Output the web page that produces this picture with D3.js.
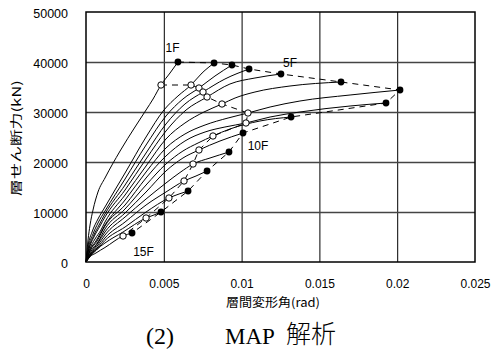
<!DOCTYPE html>
<html><head><meta charset="utf-8">
<script src="https://cdn.jsdelivr.net/npm/d3@7"></script>
<style>body{margin:0;background:#fff}svg{display:block}</style>
</head><body><svg id="c" width="491" height="351"></svg>
<script>
// ---- data ----
const floorNames = ["1F","2F","3F","4F","5F","6F","7F","8F","9F","10F","11F","12F","13F","14F","15F"];
// story drift angle (rad) along each curve
const drifts = [
 [0,0.00013,0.00026,0.00045,0.00077,0.00122,0.00219,0.00315,0.00386,0.00431,0.00482,0.0054,0.00591],
 [0,0.00013,0.00039,0.00077,0.00122,0.00186,0.00251,0.00386,0.00501,0.00591,0.00675,0.00746,0.00823],
 [0,0.00016,0.00045,0.00077,0.00122,0.00251,0.00386,0.00514,0.00623,0.00726,0.00829,0.00938],
 [0,0.00019,0.00051,0.00084,0.00122,0.00251,0.00386,0.00514,0.00636,0.00752,0.00893,0.01048],
 [0,0.00019,0.00051,0.0009,0.00122,0.00251,0.00386,0.00514,0.00643,0.00778,0.00925,0.01086,0.01253],
 [0,0.00022,0.00058,0.00096,0.00122,0.00251,0.00386,0.00514,0.00636,0.00758,0.00874,0.00958,0.01086,0.01311,0.01639],
 [0,0.00026,0.00064,0.00122,0.00251,0.00386,0.00514,0.00636,0.00765,0.00913,0.01041,0.01183,0.01375,0.01697,0.02018],
 [0,0.00026,0.00071,0.00122,0.00251,0.00386,0.00514,0.00636,0.00765,0.00893,0.01028,0.01183,0.01375,0.01697,0.01928],
 [0,0.00029,0.00077,0.00122,0.00251,0.00386,0.00514,0.00623,0.0072,0.00816,0.00925,0.01118,0.01318],
 [0,0.00032,0.00077,0.00122,0.00251,0.00386,0.00514,0.00623,0.00726,0.00861,0.01009],
 [0,0.00032,0.00077,0.00122,0.00251,0.00386,0.00514,0.00604,0.00688,0.00797,0.00919],
 [0,0.00032,0.00077,0.00122,0.00251,0.00386,0.00514,0.0063,0.00707,0.00778],
 [0,0.00029,0.00077,0.00122,0.00251,0.00386,0.00533,0.00598,0.00656],
 [0,0.00013,0.00064,0.00122,0.00238,0.00386,0.00437,0.00482],
 [0,0.0001,0.00064,0.00122,0.00238,0.00296]
];
// story shear (kN) along each curve
const shears = [
 [0,4400,7400,10400,14000,16800,22200,27000,30400,32600,35400,37800,40000],
 [0,3200,6000,8600,11000,14400,17800,25000,30400,33200,35400,37800,39800],
 [0,3000,5600,7800,10200,16600,23400,29200,32600,34800,37200,39400],
 [0,2800,5400,7400,9600,15400,21800,27600,31600,34000,36600,38600],
 [0,2600,5000,7200,9000,14400,20600,26200,30400,33000,35600,36800,37600],
 [0,2400,4600,6400,8000,13400,19200,24600,27800,30000,31600,32800,34000,35200,36000],
 [0,2400,4200,7400,12400,18000,22800,25600,27400,28800,29800,31000,32200,33400,34400],
 [0,2200,4200,7200,11400,16800,21200,24200,26000,27000,27800,29000,30000,31200,31800],
 [0,2000,4000,6600,10600,15400,19600,22200,23800,25200,26600,28200,29000],
 [0,1800,3800,6000,9800,14000,18200,20800,22400,24200,25800],
 [0,1600,3400,5400,9000,12600,15800,17900,19600,20800,22000],
 [0,1400,3000,4800,8000,11400,14000,16200,17200,18200],
 [0,1200,2700,4300,7000,10000,12800,13600,14200],
 [0,1000,2400,3800,6000,8800,9400,10000],
 [0,600,1800,2900,5200,5800]
];
// yield points (open circles) and max points (filled)
const yieldDrift = [0.00482,0.00675,0.00726,0.00752,0.00778,0.00874,0.01041,0.01028,0.00816,0.00726,0.00688,0.0063,0.00533,0.00386,0.00238];
const yieldShear = [35400,35400,34800,34000,33000,31600,29800,27800,25200,22400,19600,16200,12800,8800,5200];
const peakDrift  = [0.00591,0.00823,0.00938,0.01048,0.01253,0.01639,0.02018,0.01928,0.01318,0.01009,0.00919,0.00778,0.00656,0.00482,0.00296];
const peakShear  = [40000,39800,39400,38600,37600,36000,34400,31800,29000,25800,22000,18200,14200,10000,5800];
const labelFloors = ["1F","5F","10F","15F"];
const xTicks = [0,0.005,0.01,0.015,0.02,0.025];
const xTickLabels = ["0","0.005","0.01","0.015","0.02","0.025"];
const yTicks = [0,10000,20000,30000,40000,50000];
const yTickLabels = ["0","10000","20000","30000","40000","50000"];
const xTitle = "層間変形角(rad)";
const yTitle = "層せん断力(kN)";

// ---- layout ----
const L=86, T=12, W=389, H=250;
const svg = d3.select("#c");
const x = d3.scaleLinear().domain([0,0.025]).range([L,L+W]);
const y = d3.scaleLinear().domain([0,50000]).range([T+H,T]);
const sans = "'Liberation Sans', Arial, sans-serif";
const cjk = "'Noto Sans CJK JP', sans-serif";

// grid
svg.append("g").attr("transform",`translate(0,${T+H})`)
  .call(d3.axisBottom(x).tickValues(xTicks.slice(1,-1)).tickSize(-H).tickFormat(""))
  .call(g=>{g.select(".domain").remove(); g.selectAll("line").attr("stroke","#000").attr("stroke-width",1);});
svg.append("g").attr("transform",`translate(${L},0)`)
  .call(d3.axisLeft(y).tickValues(yTicks.slice(1,-1)).tickSize(-W).tickFormat(""))
  .call(g=>{g.select(".domain").remove(); g.selectAll("line").attr("stroke","#444").attr("stroke-width",1.3);});
svg.append("rect").attr("x",L).attr("y",T).attr("width",W).attr("height",H)
  .attr("fill","none").attr("stroke","#000").attr("stroke-width",1.5);

// axes labels
svg.append("g").attr("transform",`translate(0,${T+H})`)
  .call(d3.axisBottom(x).tickValues(xTicks).tickSize(0).tickFormat((d,i)=>xTickLabels[i]))
  .call(g=>{g.select(".domain").remove();
    g.selectAll("text").attr("dy",null).attr("y",22).attr("dominant-baseline","central")
     .attr("font-family",sans).attr("font-size",12).attr("fill","#000");});
svg.append("g").attr("transform",`translate(${L},0)`)
  .call(d3.axisLeft(y).tickValues(yTicks).tickSize(0).tickFormat((d,i)=>yTickLabels[i]))
  .call(g=>{g.select(".domain").remove();
    g.selectAll("text").attr("dy",null).attr("x",-18).attr("dominant-baseline","central")
     .attr("transform","translate(0,1.5)")
     .attr("font-family",sans).attr("font-size",12.5).attr("fill","#000");});

svg.append("text").attr("x",273).attr("y",301).attr("text-anchor","middle").attr("dominant-baseline","central")
  .attr("font-family",cjk).attr("font-size",12).attr("textLength",94).attr("lengthAdjust","spacingAndGlyphs").text(xTitle);
svg.append("text").attr("transform","translate(15,138) rotate(-90)").attr("text-anchor","middle").attr("dominant-baseline","central")
  .attr("font-family",cjk).attr("font-size",12).attr("textLength",116).attr("lengthAdjust","spacingAndGlyphs").text(yTitle);

// curves
const line = d3.line().x(d=>x(d[0])).y(d=>y(d[1])).curve(d3.curveMonotoneX);
drifts.forEach((dr,i)=>{
  const pts = dr.map((v,j)=>[v,shears[i][j]]);
  svg.append("path").attr("d",line(pts)).attr("fill","none").attr("stroke","#000").attr("stroke-width",1);
});
// dashed envelopes
const poly = d3.line().x(d=>x(d[0])).y(d=>y(d[1]));
svg.append("path").attr("d",poly(yieldDrift.map((v,i)=>[v,yieldShear[i]])))
  .attr("fill","none").attr("stroke","#000").attr("stroke-width",1).attr("stroke-dasharray","6,5");
svg.append("path").attr("d",poly(peakDrift.map((v,i)=>[v,peakShear[i]])))
  .attr("fill","none").attr("stroke","#000").attr("stroke-width",1).attr("stroke-dasharray","6,5");
// markers
svg.selectAll("circle.y").data(yieldDrift).enter().append("circle")
  .attr("cx",d=>x(d)).attr("cy",(d,i)=>y(yieldShear[i])).attr("r",3.2)
  .attr("fill","#fff").attr("stroke","#000").attr("stroke-width",1);
svg.selectAll("circle.p").data(peakDrift).enter().append("circle")
  .attr("cx",d=>x(d)).attr("cy",(d,i)=>y(peakShear[i])).attr("r",3.4).attr("fill","#000");

// floor labels
const labelPos = {"1F":[172.5,48],"5F":[290,63],"10F":[258,145.5],"15F":[143.5,251.5]};
labelFloors.forEach(f=>{
  svg.append("text").attr("x",labelPos[f][0]).attr("y",labelPos[f][1]).attr("text-anchor","middle")
    .attr("dominant-baseline","central").attr("font-family",sans).attr("font-size",12).text(f);
});

// caption
const serif = "'Liberation Serif','Times New Roman',serif";
svg.append("text").attr("x",146).attr("y",344).attr("font-family",serif).attr("font-size",24).text("(2)");
svg.append("text").attr("x",225).attr("y",344).attr("font-family",serif).attr("font-size",23).text("MAP");
svg.append("text").attr("x",286).attr("y",343).attr("font-family",cjk).attr("font-weight",300).attr("font-size",25).text("解析");
</script></body></html>
